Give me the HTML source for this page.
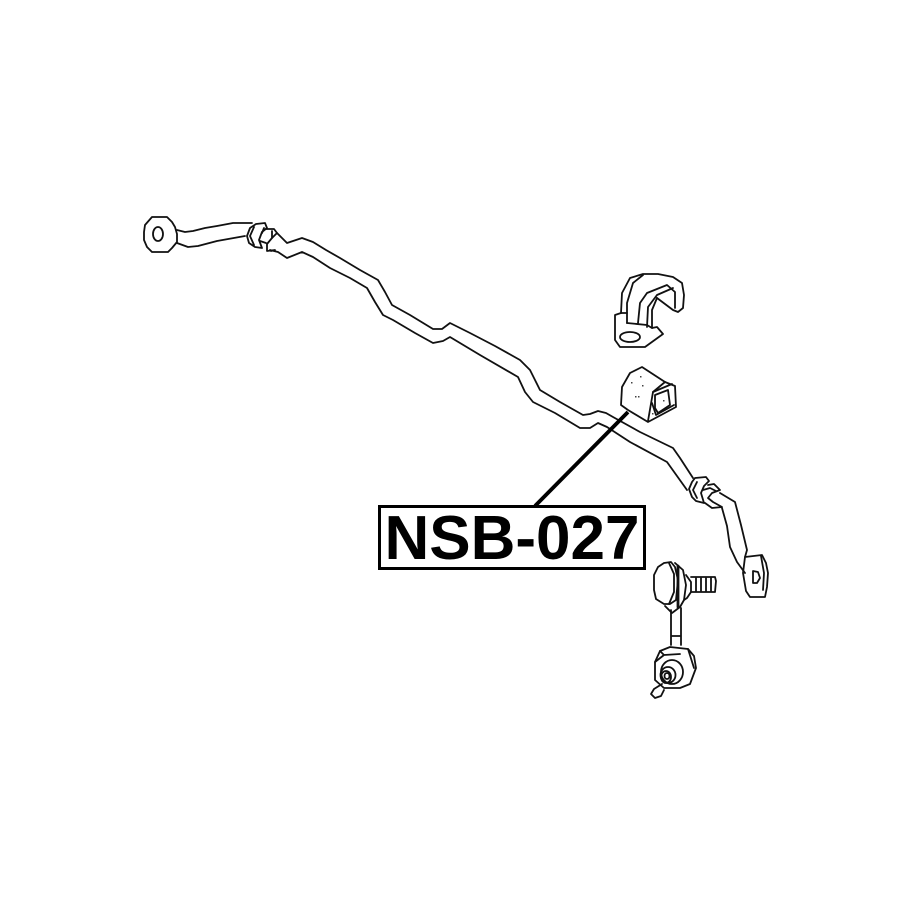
<!DOCTYPE html>
<html>
<head>
<meta charset="utf-8">
<style>
html,body{margin:0;padding:0;background:#fff}
#c{position:relative;width:915px;height:915px;overflow:hidden;background:#fff}
svg{position:absolute;left:0;top:0}
#box{position:absolute;left:377.5px;top:504.5px;width:262px;height:59px;border:3.5px solid #000;background:#fff}
#t{position:absolute;left:378px;top:505px;width:268px;height:64px;text-align:center;font:bold 62px/67px "Liberation Sans",sans-serif;color:#000;white-space:nowrap}
</style>
</head>
<body>
<div id="c">
<svg width="915" height="915" viewBox="0 0 915 915">
<g fill="none" stroke="#111" stroke-width="1.8" stroke-linejoin="round" stroke-linecap="round">
<!-- left eye -->
<path d="M152 217L167 217L172 222L175 227L177 234L177 242L172 248L168 252L152 252L147 247L144 240L144 232L145 225Z"/>
<ellipse cx="158" cy="234" rx="5" ry="7"/>
<!-- left arm -->
<path d="M177 230L185 232L193 231L205 228L217 226L233 223L252 223"/>
<path d="M177 243L188 247L198 246L217 241L245 236"/>
<!-- left bushing -->
<path d="M256 224L265 223L267 228L262 232L259 240L262 248L255 247L249 243L247 236L250 228Z"/>
<path d="M254 227L250 236L254 245"/>
<path d="M266 229L274 229L277 233L272 238L267 244L267 251L275 250L271 251"/>
<path d="M262 233L264 228M260 241L266 243M272 231L272 238"/>
<!-- main bar upper -->
<path d="M277 233L287 243L302 238L313 242L326 250L340 258L360 270L378 280L385 292L392 305L410 315L433 329L442 329L450 323L470 333L495 346L520 360L530 370L535 380L540 390L560 402L583 415L590 414L598 411L606 413L613 417L640 432L673 448L680 458L693 478"/>
<!-- main bar lower -->
<path d="M270 250L278 252L287 258L302 252L313 257L330 268L350 278L367 288L375 302L383 315L393 320L415 333L433 343L443 341L450 337L480 355L518 377L525 392L533 402L555 413L580 428L590 428L598 423L607 427L630 442L667 462L677 476L687 490"/>
<!-- right bushing -->
<path d="M692 482L695 478L706 477L709 481L704 486L701 493L704 503L696 501L692 497L689 489Z"/>
<path d="M697 482L693 490L697 498"/>
<path d="M708 485L714 484L720 490L712 493L708 498L713 502L722 507L712 508L705 503"/>
<path d="M703 490L710 488L716 491"/>
<!-- right arm -->
<path d="M720 493L735 502L741 525L747 550L745 557"/>
<path d="M722 508L727 526L730 547L737 562L745 573"/>
<!-- right eye -->
<path d="M745 557L762 555L766 563L768 573L767 587L765 597L750 597L746 591L743 573Z"/>
<path d="M761 556L764 573L763 590"/>
<path d="M753 571L758 572L760 578L757 583L753 583Z"/>
<!-- clamp -->
<path d="M621 313L615 315L615 340L620 347L645 347L663 334L657 327L652 328"/>
<ellipse cx="630" cy="337" rx="10" ry="5"/>
<path d="M621 313L622 293L630 278L643 274L658 274L673 277L682 283L684 295L683 308L678 312L673 310L657 298"/>
<path d="M627 323L627 303L633 283L643 275"/>
<path d="M627 323L647 325L652 328"/>
<path d="M638 323L640 303L647 293L667 285L675 292L675 308"/>
<path d="M647 327L648 307L657 295L673 288"/>
<path d="M652 327L652 310L657 298"/>
<path d="M621 313L627 313"/>
<!-- block -->
<path d="M622 387L630 373L642 367L665 382L675 386L676 407L648 422L628 410L621 405Z"/>
<path d="M665 382L653 392L648 421"/>
<path d="M655 395L668 390L670 405L658 413L655 408Z"/>
<path d="M653 392L672 384M652 403L656 415L674 405"/>
<!-- link -->
<path d="M664 563L671 562L675 567L678 580L676 600L670 604L664 604L656 599L654 590L654 575L658 567Z"/>
<path d="M669 563L674 574L674 592L669 604"/>
<path d="M675 563L683 570L686 585L684 600L680 607L672 613L665 606"/>
<path d="M678 566L678 607" stroke-width="2.8"/>
<path d="M686 575L691 582L691 592L687 598L684 600"/>
<path d="M691 577L715 577L716 581L715 592L691 592"/>
<path d="M696 578L696 591M701 578L701 591M706 578L706 591M711 578L711 591"/>
<path d="M671 610L671 645M681 608L681 645M671 636L681 636"/>
<path d="M660 651L670 647L688 649L694 656L696 668L690 684L680 688L664 688L655 680L655 662Z"/>
<path d="M660 651L664 655M688 649L694 668M655 662L664 655L680 654"/>
<ellipse cx="672" cy="672" rx="11" ry="12"/>
<ellipse cx="668" cy="675" rx="7.5" ry="8"/>
<ellipse cx="666" cy="677" rx="5" ry="6"/>
<ellipse cx="667" cy="676" rx="2.5" ry="3"/>
<path d="M662 684L654 689L651 694L655 698L661 696L664 690"/>
</g>
<g fill="#444"><rect x="631" y="382" width="1.5" height="1.5"/><rect x="640" y="376" width="1.5" height="1.5"/><rect x="642" y="385" width="1.5" height="1.5"/><rect x="635" y="396" width="1.5" height="1.5"/><rect x="638" y="396" width="1.5" height="1.5"/><rect x="663" y="400" width="1.5" height="1.5"/><rect x="652" y="413" width="1.5" height="1.5"/></g>
<line x1="535" y1="506" x2="628" y2="412" stroke="#000" stroke-width="3.8"/>
</svg>
<div id="box"></div>
<div id="t">NSB-027</div>
</div>
</body>
</html>
